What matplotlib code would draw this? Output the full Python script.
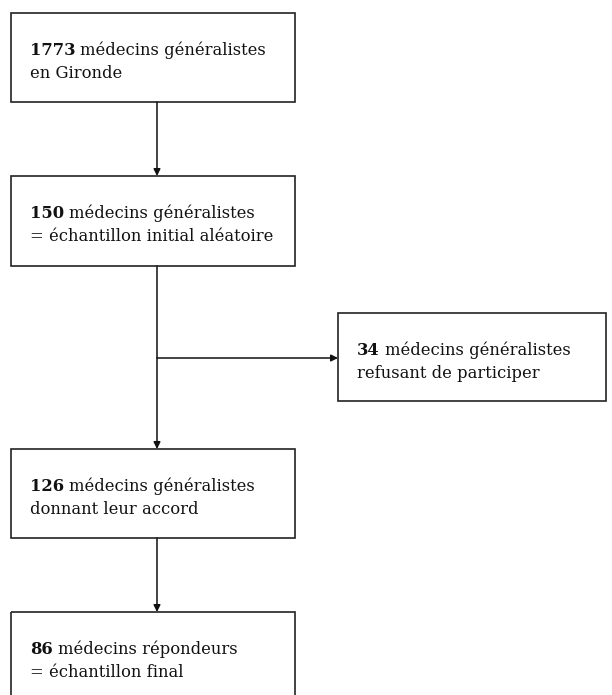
import matplotlib
matplotlib.use("Agg")
from matplotlib import pyplot as plt
from matplotlib.patches import Rectangle

# flowchart content
counts = ["1773", "150", "34", "126", "86"]
first_lines = ["médecins généralistes", "médecins généralistes",
               "médecins généralistes", "médecins généralistes",
               "médecins répondeurs"]
second_lines = ["en Gironde", "= échantillon initial aléatoire",
                "refusant de participer", "donnant leur accord",
                "= échantillon final"]

# layout in pixels (x0, y0, x1, y1), y going down
boxes = [(11, 13, 295, 102), (11, 176, 295, 266), (338, 313, 606, 401),
         (11, 449, 295, 538), (11, 612, 295, 720)]
trunk_x = 157
branch_y = 358

W, H = 612, 695
fig = plt.figure(figsize=(W / 100, H / 100), dpi=100)
ax = fig.add_axes([0, 0, 1, 1])
ax.set_xlim(0, W)
ax.set_ylim(H, 0)
ax.axis('off')

font = dict(family='DejaVu Serif', size=11.8, color='#111111')
renderer = fig.canvas.get_renderer()

for (x0, y0, x1, y1), n, l1, l2 in zip(boxes, counts, first_lines, second_lines):
    ax.add_patch(Rectangle((x0, y0), x1 - x0, y1 - y0, fill=False,
                           edgecolor='#222222', lw=1.2))
    tx = x0 + 19
    base = y0 + 42
    bold = ax.text(tx, base, n, fontweight='bold', va='baseline', **font)
    w = bold.get_window_extent(renderer=renderer).width
    ax.text(tx + w + 5, base, l1, va='baseline', **font)
    ax.text(tx, base + 23, l2, va='baseline', **font)

def arrow(p0, p1):
    ax.annotate('', xy=p1, xytext=p0,
                arrowprops=dict(arrowstyle='-|>', lw=1.1, color='#111111',
                                mutation_scale=10, shrinkA=0, shrinkB=0))

arrow((trunk_x, boxes[0][3]), (trunk_x, boxes[1][1]))
arrow((trunk_x, boxes[1][3]), (trunk_x, boxes[3][1]))
arrow((trunk_x, branch_y), (boxes[2][0], branch_y))
arrow((trunk_x, boxes[3][3]), (trunk_x, boxes[4][1]))

fig.savefig("out.png", dpi=100)
